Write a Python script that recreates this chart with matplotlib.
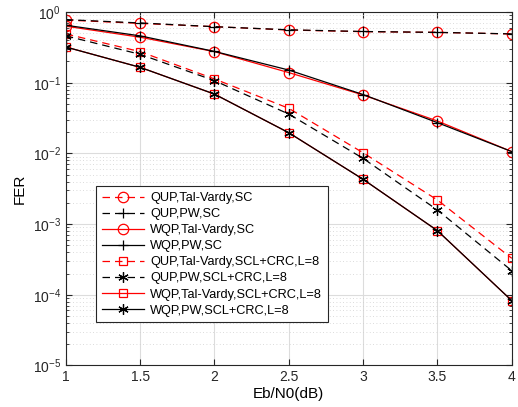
import matplotlib
matplotlib.use("Agg")
import matplotlib.pyplot as plt
from matplotlib.ticker import LogLocator, NullFormatter

plt.rcParams['font.family'] = ['Liberation Sans', 'DejaVu Sans']

ebn0 = [1, 1.5, 2, 2.5, 3, 3.5, 4]

# FER values
qup_tv_sc = [0.77, 0.69, 0.62, 0.556, 0.527, 0.515, 0.489]
qup_pw_sc = [0.78, 0.70, 0.62, 0.56, 0.53, 0.515, 0.49]
wqp_tv_sc = [0.63, 0.44, 0.275, 0.139, 0.067, 0.0287, 0.0106]
wqp_pw_sc = [0.65, 0.46, 0.277, 0.151, 0.068, 0.0272, 0.0106]
qup_tv_scl = [0.49, 0.275, 0.113, 0.0434, 0.0102, 0.00219, 3.28e-4]
qup_pw_scl = [0.46, 0.252, 0.107, 0.036, 0.0085, 0.00158, 2.19e-4]
wqp_tv_scl = [0.32, 0.165, 0.069, 0.0196, 0.0043, 8.07e-4, 8.26e-5]
wqp_pw_scl = [0.32, 0.165, 0.069, 0.0196, 0.0043, 8.07e-4, 8.26e-5]

labels = ['QUP,Tal-Vardy,SC', 'QUP,PW,SC', 'WQP,Tal-Vardy,SC', 'WQP,PW,SC',
          'QUP,Tal-Vardy,SCL+CRC,L=8', 'QUP,PW,SCL+CRC,L=8',
          'WQP,Tal-Vardy,SCL+CRC,L=8', 'WQP,PW,SCL+CRC,L=8']
series = [qup_tv_sc, qup_pw_sc, wqp_tv_sc, wqp_pw_sc,
          qup_tv_scl, qup_pw_scl, wqp_tv_scl, wqp_pw_scl]
asterisk = (6, 2, 0)
styles = [('r', '--', 'o'), ('k', '--', '+'), ('r', '-', 'o'), ('k', '-', '+'),
          ('r', '--', 's'), ('k', '--', asterisk), ('r', '-', 's'), ('k', '-', asterisk)]

fig = plt.figure(figsize=(5.18, 4.07), dpi=100)
ax = fig.add_axes([0.127, 0.102, 0.861, 0.8685])

for y, lab, (c, ls, m) in zip(series, labels, styles):
    ms = 6 if m == 's' else 7.5
    ax.semilogy(ebn0, y, color=c, linestyle=ls, marker=m, markersize=ms,
                markerfacecolor='none', markeredgecolor=c, linewidth=0.9,
                markeredgewidth=0.9, label=lab, dashes=(6, 4) if ls == '--' else (None, None))

ax.set_xlim(1, 4)
ax.set_ylim(1e-5, 1)
ax.set_xticks(ebn0)
ax.set_xticklabels(['1', '1.5', '2', '2.5', '3', '3.5', '4'])
ax.yaxis.set_major_locator(LogLocator(base=10, numticks=10))
ax.yaxis.set_minor_locator(LogLocator(base=10, subs=range(2, 10), numticks=20))
ax.yaxis.set_minor_formatter(NullFormatter())

ax.grid(True, which='major', color='#dcdcdc', linewidth=0.8, linestyle='-')
ax.grid(True, which='minor', axis='y', color='#cfcfcf', linewidth=0.6, linestyle=(0, (1, 3)))
ax.set_axisbelow(True)

ax.tick_params(which='both', direction='in', top=True, right=True, labelsize=10, colors='#262626')
ax.tick_params(which='major', length=4)
ax.tick_params(which='minor', length=2)
for s in ax.spines.values():
    s.set_color('#262626')
    s.set_linewidth(0.8)

ax.set_xlabel('Eb/N0(dB)', fontsize=11, labelpad=2)
ax.set_ylabel('FER', fontsize=11, labelpad=4)

leg = ax.legend(loc='upper left', bbox_to_anchor=(0.068, 0.507), borderaxespad=0,
                fontsize=9.2, frameon=True, fancybox=False, edgecolor='#262626',
                framealpha=1, handlelength=3.3, borderpad=0.45, labelspacing=0.32,
                handletextpad=0.5)
leg.get_frame().set_linewidth(0.8)

fig.savefig('out.png', dpi=100)
